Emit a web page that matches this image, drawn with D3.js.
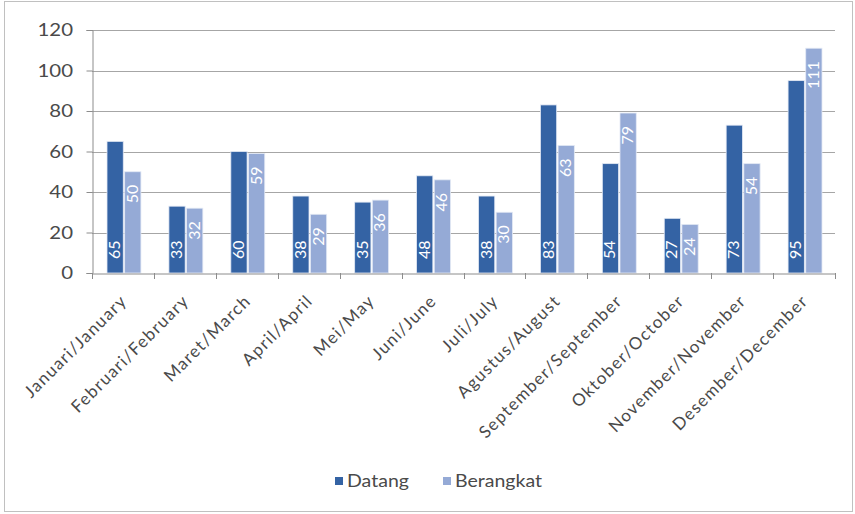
<!DOCTYPE html>
<html>
<head>
<meta charset="utf-8">
<script src="https://cdn.jsdelivr.net/npm/d3@7"></script>
<style>
  html, body { margin: 0; padding: 0; background: #fff; }
  svg { display: block; font-family: Lato, "Open Sans", sans-serif; }
</style>
</head>
<body>
<svg id="chart" width="855" height="514"></svg>
<script>
const months = [
  "Januari/January", "Februari/February", "Maret/March", "April/April",
  "Mei/May", "Juni/June", "Juli/July", "Agustus/August",
  "September/September", "Oktober/October", "November/November", "Desember/December"
];
const datang    = [65, 33, 60, 38, 35, 48, 38, 83, 54, 27, 73, 95];
const berangkat = [50, 32, 59, 29, 36, 46, 30, 63, 79, 24, 54, 111];
const seriesNames = ["Datang", "Berangkat"];
const seriesColors = ["#3463a4", "#95aad6"];
const yTicks = [0, 20, 40, 60, 80, 100, 120];

const textColor = "#4a4a4a";
const svg = d3.select("#chart");

// outer frame
svg.append("rect")
  .attr("x", 4.5).attr("y", 1.5).attr("width", 848).attr("height", 510)
  .attr("fill", "#fff").attr("stroke", "#c0c0c0").attr("stroke-width", 1);

const plot = { left: 92, right: 835, top: 30, bottom: 273 };

const x = d3.scaleBand().domain(months).range([plot.left, plot.right]).paddingInner(0).paddingOuter(0);
const xs = d3.scaleBand().domain(seriesNames).range([15, x.bandwidth() - 13]).paddingInner(0.08);
const y = d3.scaleLinear().domain([0, 120]).range([plot.bottom, plot.top]);

// horizontal gridlines
svg.append("g").selectAll("line").data(yTicks.slice(1)).join("line")
  .attr("x1", plot.left).attr("x2", plot.right)
  .attr("y1", d => Math.round(y(d)) + 0.5).attr("y2", d => Math.round(y(d)) + 0.5)
  .attr("stroke", "#a6a6a6").attr("stroke-width", 1);

// y axis line and ticks
const yAxis = svg.append("g")
  .attr("transform", `translate(${plot.left + 0.5},0)`)
  .call(d3.axisLeft(y).tickValues(yTicks).tickSize(6).tickFormat(""));
yAxis.select(".domain").attr("stroke", "#8c8c8c");
yAxis.selectAll(".tick line").attr("stroke", "#8c8c8c");

// y tick labels, slightly widened
svg.append("g").selectAll("text").data(yTicks).join("text")
  .attr("transform", d => `translate(73,${y(d) + 6}) scale(1.2,1)`)
  .attr("text-anchor", "end")
  .attr("font-size", 17)
  .attr("fill", textColor)
  .text(d => d);

// bars
const rows = months.map((m, i) => ({ month: m, values: [datang[i], berangkat[i]] }));
const groups = svg.append("g").selectAll("g").data(rows).join("g")
  .attr("transform", d => `translate(${x(d.month)},0)`);

groups.selectAll("rect").data(d => d.values.map((v, k) => ({ k, v }))).join("rect")
  .attr("x", d => xs(seriesNames[d.k]))
  .attr("width", xs.bandwidth())
  .attr("y", d => y(d.v))
  .attr("height", d => y(0) - y(d.v))
  .attr("fill", d => seriesColors[d.k])
  .attr("stroke", "#e3e9f4").attr("stroke-width", 0.8);

// value labels, rotated inside the bars
groups.selectAll("text").data(d => d.values.map((v, k) => ({ k, v }))).join("text")
  .attr("transform", d => {
    const cx = xs(seriesNames[d.k]) + xs.bandwidth() / 2 + 5;
    const cy = d.k === 0 ? y(0) - 14 : y(d.v) + 13;
    return `translate(${cx},${cy}) rotate(-90)`;
  })
  .attr("text-anchor", d => d.k === 0 ? "start" : "end")
  .attr("font-size", 16)
  .attr("fill", "#fff")
  .text(d => d.v);

// x axis
const xAxis = svg.append("g")
  .attr("transform", `translate(0,${plot.bottom + 0.5})`)
  .call(d3.axisBottom(x).tickSize(0).tickFormat(""));
xAxis.select(".domain").attr("stroke", "#8c8c8c");
// category boundary ticks
svg.append("g").selectAll("line").data(d3.range(months.length + 1)).join("line")
  .attr("x1", i => Math.round(plot.left + i * x.step()) + 0.5)
  .attr("x2", i => Math.round(plot.left + i * x.step()) + 0.5)
  .attr("y1", plot.bottom).attr("y2", plot.bottom + 6)
  .attr("stroke", "#8c8c8c");

// category labels, slanted
svg.append("g").selectAll("text").data(months).join("text")
  .attr("transform", d => `translate(${x(d) + x.bandwidth() / 2 + 5},${plot.bottom + 29}) rotate(-45)`)
  .attr("text-anchor", "end")
  .attr("font-size", 17)
  .attr("letter-spacing", 1.3)
  .attr("fill", textColor)
  .text(d => d);

// legend
const legend = svg.append("g").attr("transform", "translate(335,481)");
const items = [{ name: "Datang", x: 0 }, { name: "Berangkat", x: 108 }];
items.forEach((it, i) => {
  legend.append("rect").attr("x", it.x).attr("y", -4).attr("width", 8).attr("height", 8)
    .attr("fill", seriesColors[i]);
  legend.append("text")
    .attr("transform", `translate(${it.x + 12},6) scale(1.15,1)`)
    .attr("font-size", 17).attr("fill", textColor).text(it.name);
});
</script>
</body>
</html>
